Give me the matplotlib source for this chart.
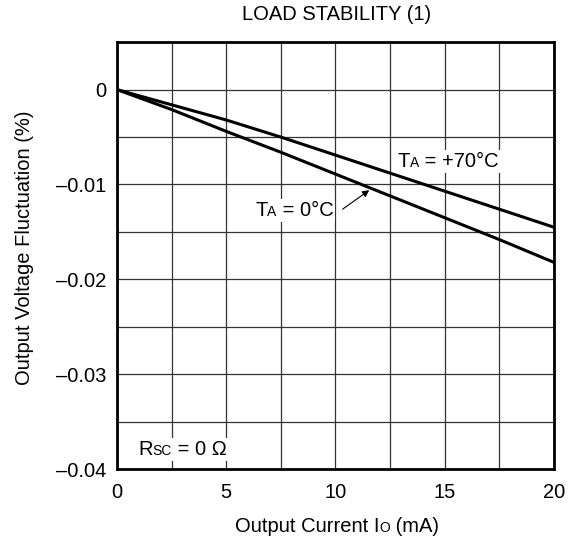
import numpy as np
import matplotlib
matplotlib.use("Agg")
import matplotlib.pyplot as plt
from matplotlib.offsetbox import TextArea, HPacker, AnnotationBbox

plt.rcParams['font.family'] = ['Liberation Sans', 'DejaVu Sans']

# data
corrente = [0, 2.5, 5, 7.5, 10, 12.5, 15, 17.5, 20]
t70 = [0, -0.0016, -0.0032, -0.0050, -0.0069, -0.0088, -0.0107, -0.0126, -0.0145]
t0 = [0, -0.0021, -0.0044, -0.0066, -0.0089, -0.0112, -0.0135, -0.0158, -0.0182]

x_ticks = [0, 2.5, 5, 7.5, 10, 12.5, 15, 17.5, 20]
x_labels = ['0', '', '5', '', '10', '', '15', '', '20']
y_ticks = [-0.04, -0.035, -0.03, -0.025, -0.02, -0.015, -0.01, -0.005, 0, 0.005]
y_labels = ['\u20130.04', '', '\u20130.03', '', '\u20130.02', '', '\u20130.01', '', '0', '']

FS = 14.5   # testo normale
FP = 10     # pedice

fig = plt.figure(figsize=(5.68, 5.48), dpi=100)
ax = fig.add_axes([0.206, 0.144, 0.769, 0.779])

ax.plot(corrente, t70, color='black', lw=2.2, zorder=5)
ax.plot(corrente, t0, color='black', lw=2.2, zorder=5)

ax.set_xlim(0, 20)
ax.set_ylim(-0.04, 0.005)
ax.set_xticks(x_ticks)
ax.set_xticklabels(x_labels)
ax.set_yticks(y_ticks)
ax.set_yticklabels(y_labels)
ax.tick_params(length=0, labelsize=FS)
ax.tick_params(axis='y', pad=8)
ax.tick_params(axis='x', pad=10)
ax.grid(True, color='#333333', lw=0.9, zorder=1)
ax.set_axisbelow(True)
for s in ax.spines.values():
    s.set_linewidth(2)
    s.set_zorder(6)


# etichetta con pedice piccolo sulla linea di base
def etichetta(parti, xy, coords, align=(0, 0.5), fondo=True):
    figli = [TextArea(t, textprops=dict(fontsize=s, color='black')) for t, s in parti]
    box = HPacker(children=figli, align='baseline', pad=0, sep=0)
    ab = AnnotationBbox(box, xy, xycoords=coords, box_alignment=align,
                        frameon=fondo, pad=0.15,
                        bboxprops=dict(fc='white', ec='none'))
    ab.set_zorder(4)
    ax.add_artist(ab)


etichetta([('T', FS), ('A', FP), (' = +70\u00b0C', FS)], (12.85, -0.0076), 'data')
etichetta([('T', FS), ('A', FP), (' = 0\u00b0C', FS)], (6.32, -0.01274), 'data')
etichetta([('R', FS), ('SC', FP), (' = 0 \u03a9', FS)], (0.96, -0.0379), 'data')
etichetta([('Output Current I', FS), ('O', FP), (' (mA)', FS)], (0.593, 0.04),
          'figure fraction', align=(0.5, 0.5), fondo=False)

ax.annotate('', xy=(11.55, -0.0106), xytext=(10.33, -0.0126),
            arrowprops=dict(arrowstyle='-|>', color='black', lw=0.8,
                            mutation_scale=10, shrinkA=0, shrinkB=0), zorder=5)

fig.text(0.044, 0.547, 'Output Voltage Fluctuation (%)', rotation=90,
         fontsize=FS, ha='center', va='center')
fig.text(0.592, 0.974, 'LOAD STABILITY (1)', fontsize=FS, ha='center', va='center')

fig.savefig('out.png', dpi=100)
